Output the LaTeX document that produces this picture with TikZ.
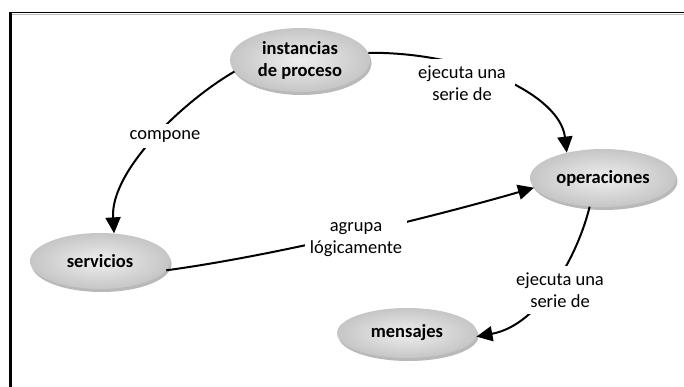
\documentclass[tikz,border=0pt]{standalone}
\usepackage{fontspec}
\setmainfont{Carlito}
\usetikzlibrary{arrows.meta,shapes.geometric,shadows}
\begin{document}
\begin{tikzpicture}[x=1pt,y=-1pt,
  concept/.style={ellipse, inner sep=0pt, text=black,
    font=\fontsize{18.5}{22}\selectfont\bfseries, align=center,
    inner color=gray!13, outer color=gray!45,
    drop shadow={shadow xshift=1.5pt,shadow yshift=-3pt,fill=gray!55,opacity=1}},
  lbl/.style={fill=white, inner xsep=9pt, inner ysep=7pt, text=black,
    font=\fontsize{18.5}{22}\selectfont, align=center},
  conn/.style={line width=2pt, draw=black, -{Triangle[length=16pt,width=15pt]}},
  frameline/.style={draw=black}]
\useasboundingbox (0,0) rectangle (684,387);
% frame
\draw[gray!55, line width=1pt] (9,14.2) -- (684,14.2);
\draw[frameline, line width=1.4pt] (9,12.5) -- (684,12.5);
\draw[frameline, line width=2.8pt] (10.4,11.8) -- (10.4,387);
% concepts
\node[concept, minimum width=140pt, minimum height=64pt] (inst) at (300,60) {instancias\\de proceso};
\node[concept, minimum width=146pt, minimum height=58pt] (oper) at (603,178) {operaciones};
\node[concept, minimum width=140pt, minimum height=56pt] (serv) at (100,261) {servicios};
\node[concept, minimum width=140pt, minimum height=50pt] (mens) at (407,333) {mensajes};
% connectors
\draw[conn] (inst.6) .. controls (470,52) and (560,95) .. (oper.145);
\draw[conn] (inst.190) .. controls (185,100) and (110,170) .. (serv.63);
\draw[conn] (serv.-8) .. controls (280,255) and (440,215) .. (oper.188);
\draw[conn] (oper.245) .. controls (578,255) and (540,325) .. (mens.-3);
% labels
\node[lbl] (l1) at (462,83) {ejecuta una\\serie de};
\node[lbl, inner sep=6pt] (l2) at (165,136) {compone};
\node[lbl, inner xsep=5pt] (l3) at (356,240) {agrupa\\lógicamente};
\node[lbl] (l4) at (560,290) {ejecuta una\\serie de};
\end{tikzpicture}
\end{document}
